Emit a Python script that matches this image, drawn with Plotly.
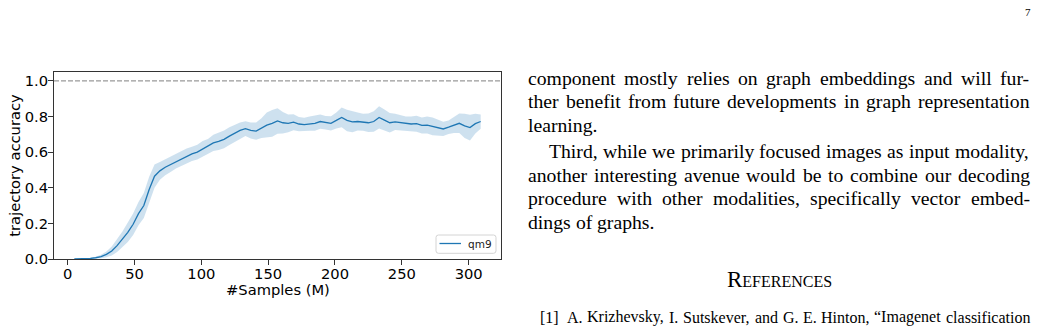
import plotly.graph_objects as go

# ---------------- data ----------------
samples_m = [5, 9, 13, 17, 21, 25, 29, 33, 37, 41, 45, 49, 53, 57, 61, 65, 69, 73, 77, 81,
             85, 89, 93, 97, 101, 105, 109, 113, 117, 121, 125, 129, 133, 137, 141, 145, 149,
             153, 157, 161, 165, 169, 173, 177, 181, 185, 189, 193, 197, 201, 205, 209, 213,
             217, 221, 225, 229, 233, 237, 241, 245, 249, 253, 257, 261, 265, 269, 273, 277,
             281, 285, 289, 293, 297, 301, 305, 309]
qm9_mean = [0.000, 0.000, 0.001, 0.003, 0.007, 0.014, 0.026, 0.045, 0.075, 0.110, 0.150, 0.195,
            0.255, 0.300, 0.390, 0.465, 0.495, 0.515, 0.530, 0.548, 0.562, 0.578, 0.590, 0.600,
            0.618, 0.632, 0.652, 0.660, 0.672, 0.690, 0.705, 0.722, 0.732, 0.722, 0.718, 0.735,
            0.752, 0.762, 0.775, 0.765, 0.762, 0.768, 0.758, 0.755, 0.760, 0.762, 0.772, 0.765,
            0.762, 0.778, 0.795, 0.778, 0.770, 0.772, 0.768, 0.765, 0.772, 0.795, 0.780, 0.765,
            0.770, 0.765, 0.760, 0.758, 0.760, 0.750, 0.752, 0.745, 0.738, 0.730, 0.740, 0.752,
            0.762, 0.748, 0.738, 0.760, 0.772]
qm9_std = [0.000, 0.000, 0.001, 0.003, 0.005, 0.010, 0.016, 0.025, 0.035, 0.045, 0.055, 0.060,
           0.065, 0.070, 0.072, 0.065, 0.050, 0.045, 0.042, 0.040, 0.040, 0.042, 0.040, 0.042,
           0.045, 0.042, 0.045, 0.048, 0.050, 0.050, 0.048, 0.045, 0.042, 0.045, 0.048, 0.055,
           0.070, 0.075, 0.072, 0.060, 0.050, 0.045, 0.040, 0.038, 0.040, 0.042, 0.040, 0.038,
           0.040, 0.045, 0.055, 0.060, 0.058, 0.050, 0.048, 0.052, 0.058, 0.062, 0.060, 0.055,
           0.045, 0.042, 0.040, 0.042, 0.045, 0.045, 0.048, 0.050, 0.045, 0.040, 0.038, 0.045,
           0.055, 0.068, 0.072, 0.055, 0.040]
x_ticks = [0, 50, 100, 150, 200, 250, 300]
y_ticks = [0.0, 0.2, 0.4, 0.6, 0.8, 1.0]
series_name = "qm9"
x_title = "#Samples (M)"
y_title = "trajectory accuracy"

body_lines = [
    "component mostly relies on graph embeddings and will fur-",
    "ther benefit from future developments in graph representation",
    "learning.",
    "Third, while we primarily focused images as input modality,",
    "another interesting avenue would be to combine our decoding",
    "procedure with other modalities, specifically vector embed-",
    "dings of graphs.",
]
body_justified = [True, True, False, True, True, True, False]
heading = "References"
ref_label = "[1]"
ref_text = "A. Krizhevsky, I. Sutskever, and G. E. Hinton, “Imagenet classification"
page_number = "7"

# ---------------- layout geometry ----------------
W, H = 1037, 326
L, R, T, B = 54, 536, 72, 67
PW, PH = W - L - R, H - T - B


def px(xp):
    return (xp - L) / PW


def py(yp):
    return (H - B - yp) / PH


TIMES = {' ': 250, 'a': 444, 'b': 500, 'c': 444, 'd': 500, 'e': 444, 'f': 333, 'g': 500,
         'h': 500, 'i': 278, 'j': 278, 'k': 500, 'l': 278, 'm': 778, 'n': 500, 'o': 500,
         'p': 500, 'q': 500, 'r': 333, 's': 389, 't': 278, 'u': 500, 'v': 500, 'w': 722,
         'x': 500, 'y': 500, 'z': 444, 'T': 611, 'A': 722, 'K': 722, 'I': 333, 'S': 556,
         'G': 722, 'E': 611, 'H': 722, ',': 250, '.': 250, '-': 333, '[': 333, ']': 333,
         '1': 500, '“': 444}


def tw(word, size):
    return sum(TIMES.get(c, 500) for c in word) / 1000.0 * size


annotations = []


def put_line(text, x_left, x_right, baseline, size, justify):
    words = text.split(" ")
    widths = [tw(w, size) for w in words]
    if justify and len(words) > 1:
        gap = (x_right - x_left - sum(widths)) / (len(words) - 1)
    else:
        gap = 0.25 * size
    x = x_left
    ymid = baseline - 0.34 * size
    for w, wd in zip(words, widths):
        annotations.append(dict(
            text=w, x=px(x), y=py(ymid), xref="paper", yref="paper",
            xanchor="left", yanchor="middle", showarrow=False,
            borderpad=0, borderwidth=0,
            font=dict(family="Liberation Serif", size=size, color="black")))
        x += wd + gap


BODY = 19.7
baselines = [84.3, 107.8, 131.3, 158.0, 181.5, 205.0, 228.5]
for i, (line, j) in enumerate(zip(body_lines, body_justified)):
    left = 549 if i == 3 else 528
    put_line(line, left, 1030, baselines[i], BODY, j)

annotations.append(dict(
    text=heading, x=px(779.5), y=py(279), xref="paper", yref="paper",
    xanchor="center", yanchor="middle", showarrow=False, borderpad=0, borderwidth=0,
    font=dict(family="Liberation Serif", size=23, color="black", variant="small-caps")))

put_line(ref_label, 540, 560, 322.5, 16, False)
put_line(ref_text, 567, 1030, 322.5, 16, True)

annotations.append(dict(
    text=page_number, x=px(1028), y=py(12), xref="paper", yref="paper",
    xanchor="center", yanchor="middle", showarrow=False, borderpad=0, borderwidth=0,
    font=dict(family="Liberation Serif", size=11, color="black")))

axis_font = dict(family="DejaVu Sans", size=14.7, color="black")

# x axis title (placed like matplotlib's xlabel)
annotations.append(dict(
    text=x_title, x=0.5, y=py(289), xref="paper", yref="paper",
    xanchor="center", yanchor="middle", showarrow=False, borderpad=0, borderwidth=0,
    font=axis_font))

# legend (matplotlib-style box at lower right)
annotations.append(dict(
    text=series_name, x=px(468), y=py(243.5), xref="paper", yref="paper",
    xanchor="left", yanchor="middle", showarrow=False, borderpad=0, borderwidth=0,
    font=dict(family="DejaVu Sans", size=10.5, color="#222")))

# ---------------- figure ----------------
upper = [m + s for m, s in zip(qm9_mean, qm9_std)]
lower = [m - s for m, s in zip(qm9_mean, qm9_std)]

fig = go.Figure()
fig.add_trace(go.Scatter(x=samples_m, y=upper, mode="lines", line=dict(width=0),
                         showlegend=False, hoverinfo="skip"))
fig.add_trace(go.Scatter(x=samples_m, y=lower, mode="lines", line=dict(width=0),
                         fill="tonexty", fillcolor="rgba(31,119,180,0.22)",
                         showlegend=False, hoverinfo="skip"))
fig.add_trace(go.Scatter(x=samples_m, y=qm9_mean, mode="lines", name=series_name,
                         line=dict(color="#1f77b4", width=1.3), showlegend=False))

fig.add_shape(type="line", xref="paper", yref="y", x0=0, x1=1, y0=1.0, y1=1.0,
              line=dict(color="#808080", width=1, dash="5px,2px"))


def rounded_rect(x0, y0, x1, y1, r):
    # pixel coords -> paper path with rounded corners
    def P(x, y):
        return f"{px(x):.5f},{py(y):.5f}"
    return (f"M {P(x0 + r, y0)} L {P(x1 - r, y0)} Q {P(x1, y0)} {P(x1, y0 + r)} "
            f"L {P(x1, y1 - r)} Q {P(x1, y1)} {P(x1 - r, y1)} "
            f"L {P(x0 + r, y1)} Q {P(x0, y1)} {P(x0, y1 - r)} "
            f"L {P(x0, y0 + r)} Q {P(x0, y0)} {P(x0 + r, y0)} Z")


fig.add_shape(type="path", xref="paper", yref="paper",
              path=rounded_rect(436, 235, 496, 253.3, 2.5),
              fillcolor="rgba(255,255,255,0.85)", line=dict(color="#d4d4d4", width=1))
fig.add_shape(type="line", xref="paper", yref="paper",
              x0=px(439.5), x1=px(461), y0=py(243.5), y1=py(243.5),
              line=dict(color="#1f77b4", width=1.3))

fig.update_layout(
    width=W, height=H,
    margin=dict(l=L, r=R, t=T, b=B, autoexpand=False),
    paper_bgcolor="white", plot_bgcolor="white",
    font=axis_font,
    showlegend=False,
    xaxis=dict(range=[-10.2, 324.2], tickvals=x_ticks, ticks="outside", ticklen=5,
               tickwidth=1.1, tickcolor="#333", showgrid=False, zeroline=False,
               showline=True, linecolor="#333", linewidth=1.1, mirror=True,
               tickfont=axis_font, ticklabelstandoff=-4),
    yaxis=dict(range=[0, 1.05], tickvals=y_ticks, tickformat=".1f", ticks="outside",
               ticklen=5, tickwidth=1.1, tickcolor="#333", showgrid=False, zeroline=False,
               showline=True, linecolor="#333", linewidth=1.1, mirror=True,
               tickfont=axis_font, ticklabelstandoff=-3,
               title=dict(text=y_title, font=axis_font, standoff=0)),
    annotations=annotations,
)

fig.write_html("out.html")
